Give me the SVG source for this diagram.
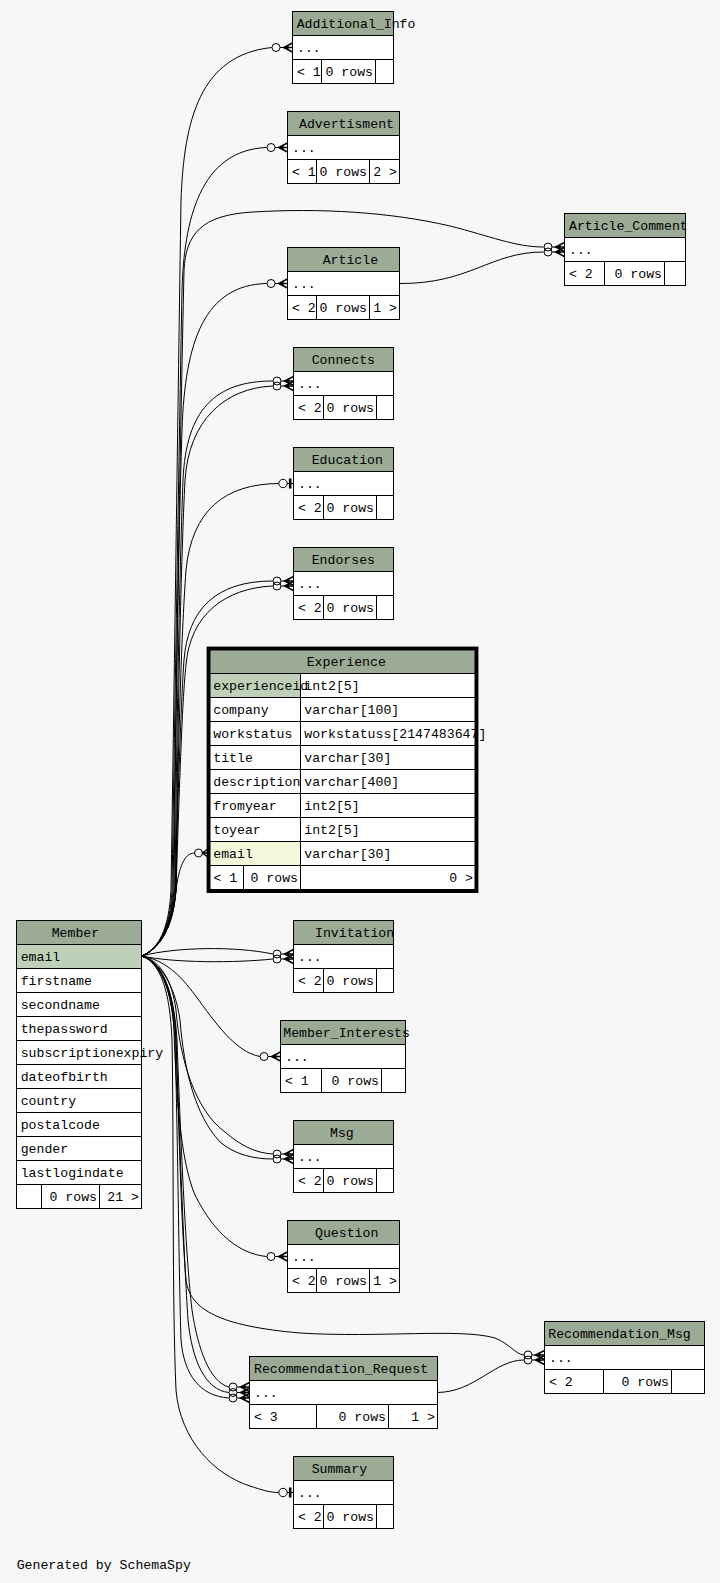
<svg xmlns="http://www.w3.org/2000/svg" xmlns:xlink="http://www.w3.org/1999/xlink" width="720" height="1583" viewBox="0 0 720 1583">
<style>
text{font-family:"Liberation Mono","DejaVu Sans Mono",monospace;font-size:13.2px;fill:#000}
.r{text-anchor:end}
.tb{fill:#fff;stroke:#000;stroke-width:1}
.hd{fill:#9bab96;stroke:#000;stroke-width:1}
.pk{fill:#bed1b8;stroke:#000;stroke-width:1}
.fk{fill:#f4f7da;stroke:#000;stroke-width:1}
.ln{fill:none;stroke:#000;stroke-width:1}
.e{fill:none;stroke:#000;stroke-width:1}
</style>
<defs>
  <!-- zero-or-many end: open dot + crow's foot, tip at origin pointing +x -->
  <g id="crowodot" fill="none" stroke="#000">
    <circle cx="-16.5" cy="0" r="4"/>
    <line x1="-12.5" y1="0" x2="-9" y2="0"/>
    <path d="M0,-4.5 L-9,0 L0,4.5 M-9,0 L0,0" stroke-width="1.4"/>
    <polygon points="-9,0 -4,-2.2 -4,2.2" fill="#000" stroke="none"/>
  </g>
  <!-- zero-or-one end: open dot + tee -->
  <g id="teeodot" fill="none" stroke="#000">
    <circle cx="-10.5" cy="0" r="4.2"/>
    <line x1="-6.3" y1="0" x2="0" y2="0"/>
    <rect x="-4.6" y="-5" width="2.6" height="10" fill="#000" stroke="none"/>
  </g>
</defs>
<rect width="720" height="1583" fill="#f7f7f7"/>

<g id="connectors">
  <path class="e" d="M141.5,956 C158,950 169,930 171,890 C174,700 178,400 181,200 C184,120 200,55 271.8,47.5"/>
  <path class="e" d="M141.5,956 C158,950 170,930 172,890 C175,700 179,450 182,290 C184,220 200,150 266.8,147.5"/>
  <path class="e" d="M141.5,956 C158,950 171,930 173,890 C176,700 180,450 184,270 C186,235 200,215 253,212 C320,208 390,212 450,226 C490,236 515,247 543.5,247"/>
  <path class="e" d="M141.5,956 C158,950 171,930 174,890 C176,700 179,520 182,430 C185,340 205,285 266.8,283.5"/>
  <path class="e" d="M141.5,956 C158,950 172,930 175,890 C177,700 180,560 183,480 C186,410 215,381 272.8,381"/>
  <path class="e" d="M141.5,956 C158,950 173,930 176,890 C178,700 181,560 185,480 C189,420 225,388 272.8,386"/>
  <path class="e" d="M141.5,956 C158,950 173,930 176,890 C178,750 181,640 186,570 C192,510 225,484 278.6,483.5"/>
  <path class="e" d="M141.5,956 C158,950 172,930 175,890 C178,800 181,700 184,660 C188,610 215,581 272.8,581"/>
  <path class="e" d="M141.5,956 C158,950 173,930 176,890 C179,800 182,700 186,665 C190,615 225,588 272.8,586"/>
  <path class="e" d="M141.5,956 C158,950 172,925 176,890 C179,868 184,853 194.5,853"/>
  <path class="e" d="M141.5,956 C175,947 235,946 272.8,954"/>
  <path class="e" d="M141.5,956 C175,963 235,963 272.8,959"/>
  <path class="e" d="M141.5,956 C165,960 180,975 195,995 C215,1022 235,1052 260,1056.5"/>
  <path class="e" d="M141.5,956 C160,960 172,980 176,1010 C180,1060 195,1110 225,1132 C240,1145 255,1153 272.8,1154"/>
  <path class="e" d="M141.5,956 C160,962 175,985 180,1020 C184,1070 195,1115 220,1142 C235,1155 255,1159 272.8,1159"/>
  <path class="e" d="M141.5,956 C160,962 172,990 174,1030 C176,1090 180,1160 195,1195 C215,1235 240,1254 266.8,1256.5"/>
  <path class="e" d="M141.5,956 C162,962 174,990 176,1040 C179,1130 181,1220 186,1280 C190,1310 220,1326 300,1333 C380,1338 460,1328 495,1338 C510,1344 515,1354 523.8,1355"/>
  <path class="e" d="M141.5,956 C162,962 174,990 177,1040 C181,1150 186,1260 192,1310 C198,1350 210,1382 228.8,1387"/>
  <path class="e" d="M141.5,956 C162,962 173,990 176,1040 C180,1150 184,1260 188,1320 C192,1360 205,1390 228.8,1392.5"/>
  <path class="e" d="M141.5,956 C162,962 172,990 175,1040 C178,1150 179,1280 181,1340 C184,1375 200,1396 228.8,1398"/>
  <path class="e" d="M141.5,956 C160,962 170,990 172,1040 C174,1150 172,1300 176,1390 C180,1440 215,1475 250,1486 C262,1490 270,1492.5 278.6,1492.5"/>
  <path class="e" d="M399.5,283.5 C470,284 490,252 543.5,252"/>
  <path class="e" d="M437.5,1392.5 C475,1392 495,1360 523.8,1360"/>

  <use xlink:href="#crowodot" transform="translate(292.5,47.5)"/>
  <use xlink:href="#crowodot" transform="translate(287.5,147.5)"/>
  <use xlink:href="#crowodot" transform="translate(564.5,247)"/>
  <use xlink:href="#crowodot" transform="translate(564.5,252)"/>
  <use xlink:href="#crowodot" transform="translate(287.5,283.5)"/>
  <use xlink:href="#crowodot" transform="translate(293.5,381)"/>
  <use xlink:href="#crowodot" transform="translate(293.5,386)"/>
  <use xlink:href="#teeodot" transform="translate(293.5,483.5)"/>
  <use xlink:href="#crowodot" transform="translate(293.5,581)"/>
  <use xlink:href="#crowodot" transform="translate(293.5,586)"/>
  <g fill="none" stroke="#000">
    <circle cx="198.5" cy="853" r="4"/>
    <path d="M207,849.5 L202.5,853 L207,856.5 M202.5,853 L207,853" stroke-width="1.4"/>
  </g>
  <use xlink:href="#crowodot" transform="translate(293.5,954)"/>
  <use xlink:href="#crowodot" transform="translate(293.5,959)"/>
  <use xlink:href="#crowodot" transform="translate(280.5,1056.5)"/>
  <use xlink:href="#crowodot" transform="translate(293.5,1154)"/>
  <use xlink:href="#crowodot" transform="translate(293.5,1159)"/>
  <use xlink:href="#crowodot" transform="translate(287.5,1256.5)"/>
  <use xlink:href="#crowodot" transform="translate(544.5,1355)"/>
  <use xlink:href="#crowodot" transform="translate(544.5,1360)"/>
  <use xlink:href="#crowodot" transform="translate(249.5,1387)"/>
  <use xlink:href="#crowodot" transform="translate(249.5,1392.5)"/>
  <use xlink:href="#crowodot" transform="translate(249.5,1398)"/>
  <use xlink:href="#teeodot" transform="translate(293.5,1492.5)"/>
</g>

<g id="Additional_Info">
  <rect class="tb" x="292.5" y="11.5" width="101" height="72"/>
  <rect class="hd" x="292.5" y="11.5" width="101" height="24"/>
  <path class="ln" d="M292.5,59.5H393.5M321.5,59.5V83.5M375.5,59.5V83.5"/>
  <text x="296.7" y="27.5">Additional_Info</text>
  <text x="297" y="51.5">...</text>
  <text x="297" y="75.5">&lt; 1</text>
  <text class="r" x="373" y="75.5">0 rows</text>
</g>

<g id="Advertisment">
  <rect class="tb" x="287.5" y="111.5" width="112" height="72"/>
  <rect class="hd" x="287.5" y="111.5" width="112" height="24"/>
  <path class="ln" d="M287.5,159.5H399.5M316.5,159.5V183.5M369.5,159.5V183.5"/>
  <text x="299" y="127.5">Advertisment</text>
  <text x="292" y="151.5">...</text>
  <text x="292" y="175.5">&lt; 1</text>
  <text class="r" x="367" y="175.5">0 rows</text>
  <text class="r" x="397" y="175.5">2 &gt;</text>
</g>

<g id="Article_Comment">
  <rect class="tb" x="564.5" y="213.5" width="121" height="72"/>
  <rect class="hd" x="564.5" y="213.5" width="121" height="24"/>
  <path class="ln" d="M564.5,261.5H685.5M604.5,261.5V285.5M664.5,261.5V285.5"/>
  <text x="569" y="229.5">Article_Comment</text>
  <text x="569" y="253.5">...</text>
  <text x="569" y="277.5">&lt; 2</text>
  <text class="r" x="662" y="277.5">0 rows</text>
</g>

<g id="Article">
  <rect class="tb" x="287.5" y="247.5" width="112" height="72"/>
  <rect class="hd" x="287.5" y="247.5" width="112" height="24"/>
  <path class="ln" d="M287.5,295.5H399.5M316.5,295.5V319.5M369.5,295.5V319.5"/>
  <text x="322.7" y="263.5">Article</text>
  <text x="292" y="287.5">...</text>
  <text x="292" y="311.5">&lt; 2</text>
  <text class="r" x="367" y="311.5">0 rows</text>
  <text class="r" x="397" y="311.5">1 &gt;</text>
</g>

<g id="Connects">
  <rect class="tb" x="293.5" y="347.5" width="100" height="72"/>
  <rect class="hd" x="293.5" y="347.5" width="100" height="24"/>
  <path class="ln" d="M293.5,395.5H393.5M323.5,395.5V419.5M376.5,395.5V419.5"/>
  <text x="311.7" y="363.5">Connects</text>
  <text x="298" y="387.5">...</text>
  <text x="298" y="411.5">&lt; 2</text>
  <text class="r" x="374" y="411.5">0 rows</text>
</g>

<g id="Education">
  <rect class="tb" x="293.5" y="447.5" width="100" height="72"/>
  <rect class="hd" x="293.5" y="447.5" width="100" height="24"/>
  <path class="ln" d="M293.5,495.5H393.5M323.5,495.5V519.5M376.5,495.5V519.5"/>
  <text x="311.7" y="463.5">Education</text>
  <text x="298" y="487.5">...</text>
  <text x="298" y="511.5">&lt; 2</text>
  <text class="r" x="374" y="511.5">0 rows</text>
</g>

<g id="Endorses">
  <rect class="tb" x="293.5" y="547.5" width="100" height="72"/>
  <rect class="hd" x="293.5" y="547.5" width="100" height="24"/>
  <path class="ln" d="M293.5,595.5H393.5M323.5,595.5V619.5M376.5,595.5V619.5"/>
  <text x="311.7" y="563.5">Endorses</text>
  <text x="298" y="587.5">...</text>
  <text x="298" y="611.5">&lt; 2</text>
  <text class="r" x="374" y="611.5">0 rows</text>
</g>

<g id="Experience">
  <rect class="tb" x="210" y="650" width="265" height="239.5"/>
  <rect class="hd" x="210" y="650" width="265" height="23.5"/>
  <rect class="pk" x="210" y="673.5" width="90.5" height="24"/>
  <rect class="fk" x="210" y="841.5" width="90.5" height="24"/>
  <path class="ln" d="M210,697.5H475M210,721.5H475M210,745.5H475M210,769.5H475M210,793.5H475M210,817.5H475M210,841.5H475M210,865.5H475M300.5,673.5V889.5M243.5,865.5V889.5"/>
  <text x="306.7" y="666">Experience</text>
  <text x="213.3" y="689.5">experienceid</text>
  <text x="304.3" y="689.5">int2[5]</text>
  <text x="213.3" y="713.5">company</text>
  <text x="304.3" y="713.5">varchar[100]</text>
  <text x="213.3" y="737.5">workstatus</text>
  <text x="304.3" y="737.5">workstatuss[2147483647]</text>
  <text x="213.3" y="761.5">title</text>
  <text x="304.3" y="761.5">varchar[30]</text>
  <text x="213.3" y="785.5">description</text>
  <text x="304.3" y="785.5">varchar[400]</text>
  <text x="213.3" y="809.5">fromyear</text>
  <text x="304.3" y="809.5">int2[5]</text>
  <text x="213.3" y="833.5">toyear</text>
  <text x="304.3" y="833.5">int2[5]</text>
  <text x="213.3" y="857.5">email</text>
  <text x="304.3" y="857.5">varchar[30]</text>
  <text x="213.5" y="881.5">&lt; 1</text>
  <text class="r" x="298" y="881.5">0 rows</text>
  <text class="r" x="473" y="881.5">0 &gt;</text>
  <rect x="208.3" y="648.3" width="268.4" height="243" fill="none" stroke="#000" stroke-width="3.4"/>
</g>

<g id="Member">
  <rect class="tb" x="16.5" y="920.5" width="125" height="288"/>
  <rect class="hd" x="16.5" y="920.5" width="125" height="24"/>
  <rect class="pk" x="16.5" y="944.5" width="125" height="24"/>
  <path class="ln" d="M16.5,992.5H141.5M16.5,1016.5H141.5M16.5,1040.5H141.5M16.5,1064.5H141.5M16.5,1088.5H141.5M16.5,1112.5H141.5M16.5,1136.5H141.5M16.5,1160.5H141.5M16.5,1184.5H141.5M41.5,1184.5V1208.5M99.5,1184.5V1208.5"/>
  <text x="51.7" y="936.5">Member</text>
  <text x="20.7" y="960.5">email</text>
  <text x="20.7" y="984.5">firstname</text>
  <text x="20.7" y="1008.5">secondname</text>
  <text x="20.7" y="1032.5">thepassword</text>
  <text x="20.7" y="1056.5">subscriptionexpiry</text>
  <text x="20.7" y="1080.5">dateofbirth</text>
  <text x="20.7" y="1104.5">country</text>
  <text x="20.7" y="1128.5">postalcode</text>
  <text x="20.7" y="1152.5">gender</text>
  <text x="20.7" y="1176.5">lastlogindate</text>
  <text class="r" x="97" y="1200.5">0 rows</text>
  <text class="r" x="139" y="1200.5">21 &gt;</text>
</g>

<g id="Invitation">
  <rect class="tb" x="293.5" y="920.5" width="100" height="72"/>
  <rect class="hd" x="293.5" y="920.5" width="100" height="24"/>
  <path class="ln" d="M293.5,968.5H393.5M323.5,968.5V992.5M376.5,968.5V992.5"/>
  <text x="315" y="936.5">Invitation</text>
  <text x="298" y="960.5">...</text>
  <text x="298" y="984.5">&lt; 2</text>
  <text class="r" x="374" y="984.5">0 rows</text>
</g>

<g id="Member_Interests">
  <rect class="tb" x="280.5" y="1020.5" width="125" height="72"/>
  <rect class="hd" x="280.5" y="1020.5" width="125" height="24"/>
  <path class="ln" d="M280.5,1068.5H405.5M321.5,1068.5V1092.5M381.5,1068.5V1092.5"/>
  <text x="283.3" y="1036.5">Member_Interests</text>
  <text x="285" y="1060.5">...</text>
  <text x="285" y="1084.5">&lt; 1</text>
  <text class="r" x="379" y="1084.5">0 rows</text>
</g>

<g id="Msg">
  <rect class="tb" x="293.5" y="1120.5" width="100" height="72"/>
  <rect class="hd" x="293.5" y="1120.5" width="100" height="24"/>
  <path class="ln" d="M293.5,1168.5H393.5M323.5,1168.5V1192.5M376.5,1168.5V1192.5"/>
  <text x="330" y="1136.5">Msg</text>
  <text x="298" y="1160.5">...</text>
  <text x="298" y="1184.5">&lt; 2</text>
  <text class="r" x="374" y="1184.5">0 rows</text>
</g>

<g id="Question">
  <rect class="tb" x="287.5" y="1220.5" width="112" height="72"/>
  <rect class="hd" x="287.5" y="1220.5" width="112" height="24"/>
  <path class="ln" d="M287.5,1268.5H399.5M316.5,1268.5V1292.5M369.5,1268.5V1292.5"/>
  <text x="315" y="1236.5">Question</text>
  <text x="292" y="1260.5">...</text>
  <text x="292" y="1284.5">&lt; 2</text>
  <text class="r" x="367" y="1284.5">0 rows</text>
  <text class="r" x="397" y="1284.5">1 &gt;</text>
</g>

<g id="Recommendation_Msg">
  <rect class="tb" x="544.5" y="1321.5" width="160" height="72"/>
  <rect class="hd" x="544.5" y="1321.5" width="160" height="24"/>
  <path class="ln" d="M544.5,1369.5H704.5M603.5,1369.5V1393.5M671.5,1369.5V1393.5"/>
  <text x="548.3" y="1337.5">Recommendation_Msg</text>
  <text x="549" y="1361.5">...</text>
  <text x="549" y="1385.5">&lt; 2</text>
  <text class="r" x="669" y="1385.5">0 rows</text>
</g>

<g id="Recommendation_Request">
  <rect class="tb" x="249.5" y="1356.5" width="188" height="72"/>
  <rect class="hd" x="249.5" y="1356.5" width="188" height="24"/>
  <path class="ln" d="M249.5,1404.5H437.5M316.5,1404.5V1428.5M388.5,1404.5V1428.5"/>
  <text x="254" y="1372.5">Recommendation_Request</text>
  <text x="254" y="1396.5">...</text>
  <text x="254" y="1420.5">&lt; 3</text>
  <text class="r" x="386" y="1420.5">0 rows</text>
  <text class="r" x="435" y="1420.5">1 &gt;</text>
</g>

<g id="Summary">
  <rect class="tb" x="293.5" y="1456.5" width="100" height="72"/>
  <rect class="hd" x="293.5" y="1456.5" width="100" height="24"/>
  <path class="ln" d="M293.5,1504.5H393.5M323.5,1504.5V1528.5M376.5,1504.5V1528.5"/>
  <text x="311.7" y="1472.5">Summary</text>
  <text x="298" y="1496.5">...</text>
  <text x="298" y="1520.5">&lt; 2</text>
  <text class="r" x="374" y="1520.5">0 rows</text>
</g>

<text x="16.7" y="1569">Generated by SchemaSpy</text>
</svg>
